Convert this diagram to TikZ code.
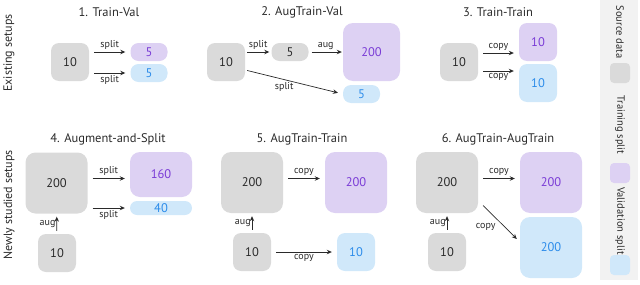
\documentclass[tikz,border=0pt]{standalone}
\usepackage{fontspec}
\setmainfont{PT Sans}
\usetikzlibrary{arrows.meta, positioning}
\definecolor{dsrc}{HTML}{DADADA}
\definecolor{dtrain}{HTML}{DDD1F3}
\definecolor{dval}{HTML}{D0E8FA}
\definecolor{ttrain}{HTML}{7A3CD6}
\definecolor{tval}{HTML}{2C8CEA}
\definecolor{dink}{HTML}{2A2A2A}
\definecolor{dpanel}{HTML}{F2F2F2}
\tikzset{
  blk/.style={rectangle, rounded corners=8pt, inner sep=0pt, text=dink,
              font=\fontsize{12.5}{15}\selectfont},
  src/.style={blk, fill=dsrc},
  trn/.style={blk, fill=dtrain, text=ttrain},
  val/.style={blk, fill=dval, text=tval},
  sq/.style={minimum width=38pt, minimum height=38pt},
  big/.style={minimum width=62pt, minimum height=61pt, rounded corners=10pt},
  pill/.style={minimum width=37pt, minimum height=18pt, rounded corners=8pt},
  flow/.style={-{Stealth[length=5pt, width=4.5pt]}, draw=dink, line width=0.7pt,
               shorten <=5pt, shorten >=5pt},
  upflow/.style={flow, shorten <=3pt, shorten >=3pt},
  lbl/.style={font=\fontsize{10}{12}\selectfont, text=dink, inner sep=2.5pt},
  ttl/.style={font=\fontsize{12.5}{15}\selectfont, text=dink},
  row/.style={font=\fontsize{12}{14}\selectfont, text=dink, rotate=90},
  key/.style={font=\fontsize{10.5}{12}\selectfont, text=dink, rotate=-90},
  swatch/.style={rectangle, rounded corners=4pt, minimum size=20pt, inner sep=0pt}
}

\begin{document}
\begin{tikzpicture}[x=1pt, y=-1pt]
  \useasboundingbox (0,0) rectangle (640,284);

  % legend
  \fill[dpanel] (600,0) rectangle (638,280);
  \node[key] (ksrc) at (620,32) {Source data};
  \node[swatch, fill=dsrc] (wsrc) at (620,73) {};
  \node[key] (ktrn) at (620,125) {Training split};
  \node[swatch, fill=dtrain] (wtrn) at (620,173) {};
  \node[key] (kval) at (620,221) {Validation split};
  \node[swatch, fill=dval] (wval) at (620,265) {};

  \node[row] (rowA) at (9,53) {Existing setups};
  \node[row] (rowB) at (9,205) {Newly studied setups};

  % 1. Train-Val
  \node[ttl] (ttl1) at (109,12) {1. Train-Val};
  \node[src, sq] (s1) at (70,62) {10};
  \node[trn, pill] (t1) at (149,52) {5};
  \node[val, pill] (v1) at (149,73) {5};
  \draw[flow] (s1.east |- t1.west) -- node[lbl, above] {split} (t1.west);
  \draw[flow] (s1.east |- v1.west) -- node[lbl, below] {split} (v1.west);

  % 2. AugTrain-Val
  \node[ttl] (ttl2) at (302,12) {2. AugTrain-Val};
  \node[src, sq] (s2) at (226,62) {10};
  \node[src, pill] (m2) at (290,52) {5};
  \node[trn, minimum width=57pt, minimum height=58pt, rounded corners=10pt] (t2) at (371.5,52) {200};
  \node[val, pill] (v2) at (361.5,94) {5};
  \draw[flow, shorten <=2pt, shorten >=2pt] (s2.east |- m2.west) -- node[lbl, above] {split} (m2.west);
  \draw[flow, shorten <=3pt, shorten >=1pt] (m2) -- node[lbl, above] {aug} (t2);
  \draw[flow, shorten <=2pt] ([yshift=-8pt]s2.east) -- node[lbl, below, pos=.4] {split} (v2.west);

  % 3. Train-Train
  \node[ttl] (ttl3) at (498,12) {3. Train-Train};
  \node[src, sq] (s3) at (459,62) {10};
  \node[trn, sq] (t3) at (538,42) {10};
  \node[val, sq] (v3) at (538,83) {10};
  \draw[flow] ([yshift=9pt]s3.east) -- node[lbl, above] {copy} ([yshift=9pt]s3.east -| t3.west);
  \draw[flow] ([yshift=-9pt]s3.east) -- node[lbl, below] {copy} ([yshift=-9pt]s3.east -| v3.west);

  % 4. Augment-and-Split
  \node[ttl] (ttl4) at (108,139) {4. Augment-and-Split};
  \node[src, big] (s4) at (56.5,183) {200};
  \node[src, sq] (a4) at (57,253) {10};
  \node[trn, minimum width=62pt, minimum height=45pt, rounded corners=10pt] (t4) at (161,174.5) {160};
  \node[val, minimum width=62pt, minimum height=14pt, rounded corners=7pt] (v4) at (161,208) {40};
  \coordinate (c4) at ([yshift=-4pt]t4.west);
  \draw[flow] (s4.east |- c4) -- node[lbl, above] {split} (c4);
  \draw[flow] (s4.east |- v4.west) -- node[lbl, below] {split} (v4.west);
  \draw[upflow] (a4) -- node[lbl, left, inner sep=1pt] {aug} (s4);

  % 5. AugTrain-Train
  \node[ttl] (ttl5) at (302,139) {5. AugTrain-Train};
  \node[src, big] (s5) at (252,182.5) {200};
  \node[src, sq] (a5) at (252,252) {10};
  \node[trn, big] (t5) at (356,182.5) {200};
  \node[val, sq] (v5) at (356,252) {10};
  \draw[flow] ([yshift=4pt]s5.east) -- node[lbl, above] {copy} ([yshift=4pt]t5.west);
  \draw[flow] (a5) -- node[lbl, below] {copy} (v5);
  \draw[upflow] (a5) -- node[lbl, left, inner sep=1pt] {aug} (s5);

  % 6. AugTrain-AugTrain
  \node[ttl] (ttl6) at (498,139) {6. AugTrain-AugTrain};
  \node[src, big] (s6) at (447,182.5) {200};
  \node[src, sq] (a6) at (447,252) {10};
  \node[trn, big] (t6) at (551,182.5) {200};
  \node[val, big] (v6) at (551,247.5) {200};
  \draw[flow] ([yshift=4pt]s6.east) -- node[lbl, above] {copy} ([yshift=4pt]t6.west);
  \draw[flow, shorten <=0pt, shorten >=0pt] ([xshift=5pt, yshift=-23pt]s6.east) -- node[lbl, below left, pos=.45] {copy} ([xshift=-3pt, yshift=8.5pt]v6.west);
  \draw[upflow] (a6) -- node[lbl, left, inner sep=1pt] {aug} (s6);
\end{tikzpicture}
\end{document}
